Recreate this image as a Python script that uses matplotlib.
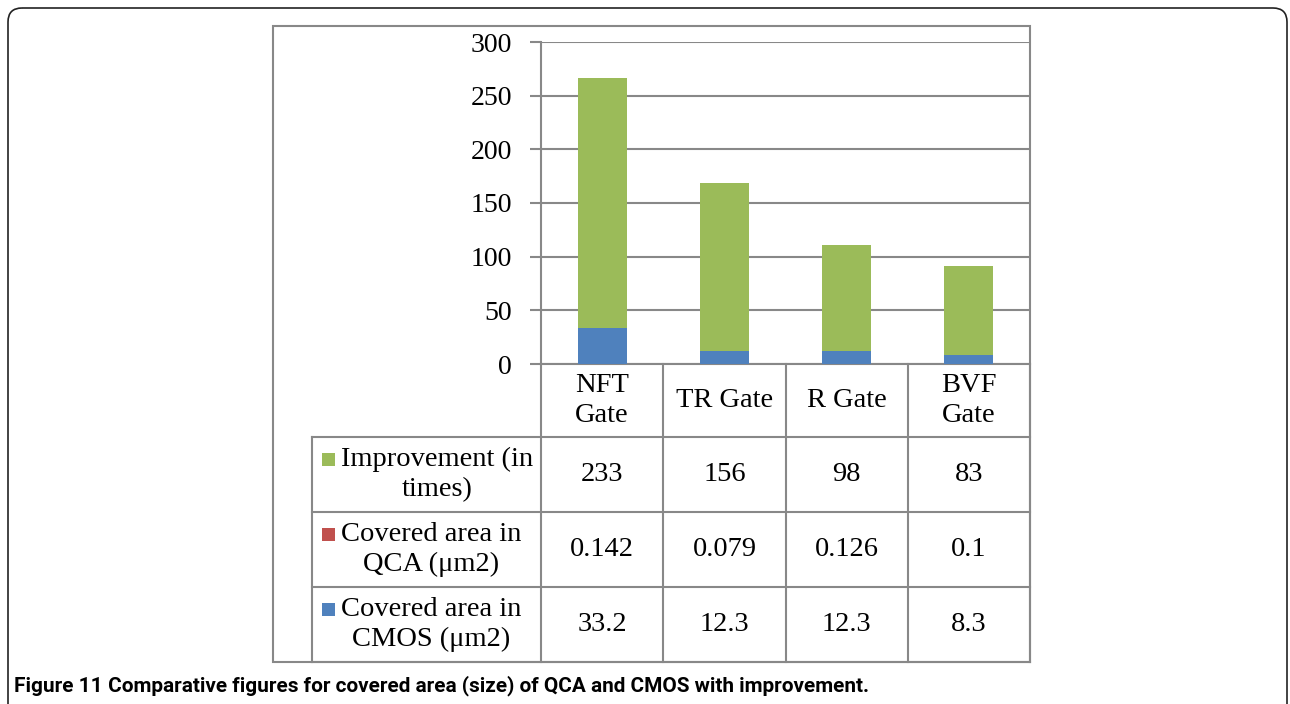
import matplotlib
matplotlib.use("Agg")
import matplotlib.pyplot as plt
from matplotlib.patches import Rectangle, FancyBboxPatch
from matplotlib import font_manager as fm

categories = ["NFT\nGate", "TR Gate", "R Gate", "BVF\nGate"]
series_names = ["Improvement (in\ntimes)", "Covered area in\nQCA (μm2)", "Covered area in\nCMOS (μm2)"]
improvement = [233, 156, 98, 83]
qca_area = [0.142, 0.079, 0.126, 0.1]
cmos_area = [33.2, 12.3, 12.3, 8.3]
table_text = [["233", "156", "98", "83"],
              ["0.142", "0.079", "0.126", "0.1"],
              ["33.2", "12.3", "12.3", "8.3"]]
yticks = [0, 50, 100, 150, 200, 250, 300]
caption_bold = "Figure 11"
caption_rest = " Comparative figures for covered area (size) of QCA and CMOS with improvement."

c_green = "#9BBB59"
c_red = "#C0504D"
c_blue = "#4F81BD"
c_grid = "#888888"
serif = "Liberation Serif"
fs = 20.5
ls = 1.22

W, H = 1290, 704
fig = plt.figure(figsize=(W / 100, H / 100), dpi=100)

ov = fig.add_axes([0, 0, 1, 1])
ov.set_xlim(0, W)
ov.set_ylim(H, 0)
ov.axis("off")

px0, px1, py0, py1 = 541, 1030, 42, 364
ax = fig.add_axes([px0 / W, 1 - py1 / H, (px1 - px0) / W, (py1 - py0) / H])
ax.set_zorder(2)
ax.patch.set_alpha(0)
x = list(range(len(categories)))
bw = 0.4
ax.bar(x, cmos_area, bw, color=c_blue, zorder=3)
ax.bar(x, qca_area, bw, bottom=cmos_area, color=c_red, zorder=3)
bottom2 = [a + b for a, b in zip(cmos_area, qca_area)]
ax.bar(x, improvement, bw, bottom=bottom2, color=c_green, zorder=3)
ax.set_xlim(-0.5, len(categories) - 0.5)
ax.set_ylim(0, 300)
ax.set_yticks(yticks)
ax.set_yticklabels([str(t) for t in yticks], fontfamily=serif, fontsize=20)
ax.yaxis.grid(True, color=c_grid, linewidth=1.5, zorder=0)
ax.set_xticks([])
for s in ["top", "right", "bottom"]:
    ax.spines[s].set_visible(False)
ax.spines["left"].set_color(c_grid)
ax.spines["left"].set_linewidth(1.5)
ax.tick_params(axis="y", length=8, width=1.5, color=c_grid, pad=13)

lw = 1.5
lc = c_grid
ov.add_patch(Rectangle((273, 26), 1030 - 273, 662 - 26, fill=False, ec=lc, lw=lw))

col_edges = [px0 + (px1 - px0) * i / len(categories) for i in range(len(categories) + 1)]
row_edges = [364, 437, 512, 587, 662]
tab_left = 312
for xe in col_edges:
    ov.plot([xe, xe], [row_edges[0], row_edges[-1]], color=lc, lw=lw)
ov.plot([tab_left, tab_left], [row_edges[1], row_edges[-1]], color=lc, lw=lw)
ov.plot([px0, px1], [row_edges[0], row_edges[0]], color=lc, lw=lw)
for ye in row_edges[1:]:
    ov.plot([tab_left, px1], [ye, ye], color=lc, lw=lw)

for i, cat in enumerate(categories):
    cx = (col_edges[i] + col_edges[i + 1]) / 2
    cy = (row_edges[0] + row_edges[1]) / 2
    ov.text(cx, cy, cat, ha="center", va="center", fontfamily=serif, fontsize=fs,
            linespacing=ls)

colors = [c_green, c_red, c_blue]
label_cx = [437, 431, 431]
for r in range(3):
    cy = (row_edges[r + 1] + row_edges[r + 2]) / 2
    for i in range(len(categories)):
        cx = (col_edges[i] + col_edges[i + 1]) / 2
        ov.text(cx, cy, table_text[r][i], ha="center", va="center",
                fontfamily=serif, fontsize=fs)
    ov.text(label_cx[r], cy, series_names[r], ha="center", va="center", fontfamily=serif,
            fontsize=fs, linespacing=ls, multialignment="center")
    ov.add_patch(Rectangle((322, cy - 22), 13, 13, color=colors[r], lw=0))

frame = FancyBboxPatch((8, 8), 1279, 760, boxstyle="round,pad=0,rounding_size=14",
                       fill=False, ec="#222222", lw=1.2, clip_on=True)
ov.add_patch(frame)

names = {f.name for f in fm.fontManager.ttflist}
if "Liberation Sans Narrow" in names:
    cap_family, cap_fs = "Liberation Sans Narrow", 17
else:
    cap_family, cap_fs = "Roboto", 14.5
t = ov.text(14, 686, caption_bold, ha="left", va="center", fontfamily=cap_family,
            fontweight="bold", fontsize=cap_fs)
fig.canvas.draw()
bb = t.get_window_extent()
inv = ov.transData.inverted()
x_end = inv.transform((bb.x1, bb.y0))[0]
t2 = ov.text(x_end, 686, caption_rest, ha="left", va="center", fontfamily=cap_family,
             fontweight="bold", fontsize=cap_fs)
fig.canvas.draw()
end_px = inv.transform((t2.get_window_extent().x1, 0))[0]
scale = (868 - 14) / (end_px - 14)
t.set_fontsize(cap_fs * scale)
fig.canvas.draw()
bb = t.get_window_extent()
t2.set_x(inv.transform((bb.x1, bb.y0))[0])
t2.set_fontsize(cap_fs * scale)

fig.savefig("out.png", dpi=100)
